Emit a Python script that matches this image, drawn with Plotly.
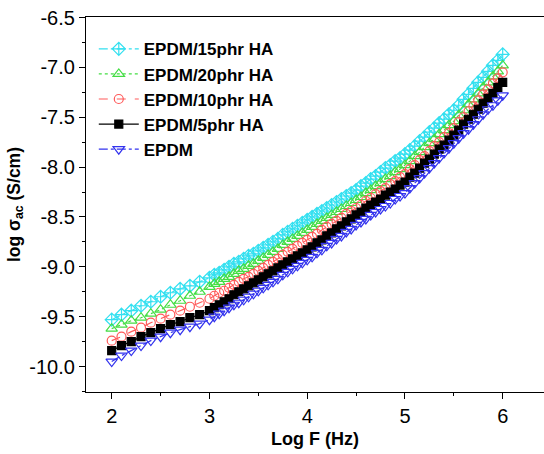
import plotly.graph_objects as go

log_f = [2.0, 2.1, 2.2, 2.3, 2.4, 2.5, 2.6, 2.7, 2.8, 2.9, 3.0,
         3.05, 3.10, 3.15, 3.20, 3.25, 3.30, 3.35, 3.40, 3.45, 3.50,
         3.55, 3.60, 3.65, 3.70, 3.75, 3.80, 3.85, 3.90, 3.95, 4.00,
         4.05, 4.10, 4.15, 4.20, 4.25, 4.30, 4.35, 4.40, 4.45, 4.50,
         4.55, 4.60, 4.65, 4.70, 4.75, 4.80, 4.85, 4.90, 4.95, 5.00,
         5.05, 5.10, 5.15, 5.20, 5.25, 5.30, 5.35, 5.40, 5.45, 5.50,
         5.55, 5.60, 5.65, 5.70, 5.75, 5.80, 5.85, 5.90, 5.95, 6.00]

epdm_15 = [-9.53, -9.48, -9.44, -9.39, -9.35, -9.30, -9.26, -9.22, -9.19, -9.15, -9.11,
           -9.08, -9.06, -9.03, -9.00, -8.97, -8.95, -8.92, -8.89, -8.87, -8.84,
           -8.81, -8.78, -8.75, -8.72, -8.68, -8.65, -8.62, -8.59, -8.56, -8.53,
           -8.50, -8.47, -8.44, -8.41, -8.38, -8.35, -8.32, -8.29, -8.26, -8.23,
           -8.19, -8.16, -8.12, -8.09, -8.05, -8.01, -7.98, -7.94, -7.91, -7.87,
           -7.83, -7.79, -7.74, -7.70, -7.65, -7.61, -7.56, -7.52, -7.47, -7.43,
           -7.38, -7.32, -7.27, -7.21, -7.15, -7.10, -7.04, -6.98, -6.93, -6.87]

epdm_20 = [-9.62, -9.58, -9.54, -9.51, -9.47, -9.43, -9.38, -9.34, -9.29, -9.25, -9.20,
           -9.17, -9.15, -9.12, -9.10, -9.07, -9.04, -9.02, -8.99, -8.97, -8.94,
           -8.91, -8.88, -8.85, -8.82, -8.78, -8.75, -8.72, -8.69, -8.66, -8.63,
           -8.60, -8.57, -8.54, -8.51, -8.48, -8.45, -8.42, -8.39, -8.36, -8.33,
           -8.30, -8.26, -8.23, -8.19, -8.16, -8.12, -8.09, -8.05, -8.02, -7.98,
           -7.94, -7.89, -7.85, -7.80, -7.76, -7.72, -7.67, -7.63, -7.58, -7.54,
           -7.48, -7.43, -7.37, -7.32, -7.26, -7.20, -7.15, -7.09, -7.04, -6.98]

epdm_10 = [-9.74, -9.70, -9.65, -9.61, -9.56, -9.52, -9.48, -9.44, -9.40, -9.36, -9.32,
           -9.29, -9.26, -9.24, -9.21, -9.18, -9.15, -9.12, -9.10, -9.07, -9.04,
           -9.01, -8.98, -8.95, -8.92, -8.88, -8.85, -8.82, -8.79, -8.76, -8.73,
           -8.70, -8.67, -8.63, -8.60, -8.57, -8.54, -8.51, -8.47, -8.44, -8.41,
           -8.38, -8.34, -8.31, -8.27, -8.24, -8.21, -8.17, -8.14, -8.10, -8.07,
           -8.02, -7.98, -7.93, -7.89, -7.84, -7.79, -7.75, -7.70, -7.66, -7.61,
           -7.55, -7.50, -7.44, -7.39, -7.33, -7.27, -7.22, -7.16, -7.11, -7.05]

epdm_5 = [-9.84, -9.79, -9.75, -9.70, -9.66, -9.62, -9.58, -9.55, -9.51, -9.48, -9.44,
          -9.41, -9.38, -9.35, -9.32, -9.28, -9.25, -9.22, -9.19, -9.16, -9.13,
          -9.10, -9.07, -9.04, -9.01, -8.98, -8.95, -8.92, -8.89, -8.86, -8.83,
          -8.80, -8.76, -8.73, -8.69, -8.66, -8.62, -8.59, -8.55, -8.52, -8.48,
          -8.45, -8.41, -8.38, -8.35, -8.32, -8.28, -8.25, -8.22, -8.18, -8.15,
          -8.10, -8.06, -8.01, -7.96, -7.92, -7.87, -7.82, -7.78, -7.73, -7.68,
          -7.63, -7.57, -7.52, -7.47, -7.42, -7.36, -7.31, -7.26, -7.20, -7.15]

epdm_0 = [-9.95, -9.89, -9.84, -9.79, -9.74, -9.70, -9.66, -9.63, -9.60, -9.57, -9.53,
          -9.50, -9.47, -9.44, -9.41, -9.38, -9.36, -9.33, -9.30, -9.27, -9.24,
          -9.21, -9.18, -9.15, -9.12, -9.08, -9.05, -9.02, -8.99, -8.96, -8.93,
          -8.90, -8.86, -8.83, -8.79, -8.76, -8.72, -8.69, -8.65, -8.62, -8.58,
          -8.55, -8.52, -8.48, -8.45, -8.42, -8.39, -8.36, -8.32, -8.29, -8.26,
          -8.21, -8.16, -8.11, -8.06, -8.01, -7.96, -7.91, -7.86, -7.81, -7.76,
          -7.71, -7.66, -7.62, -7.57, -7.52, -7.47, -7.42, -7.38, -7.33, -7.28]

names = ["EPDM/15phr HA", "EPDM/20phr HA", "EPDM/10phr HA", "EPDM/5phr HA", "EPDM"]
series = [epdm_15, epdm_20, epdm_10, epdm_5, epdm_0]
colors = ["#33e0f0", "#44dd44", "#ff5a5a", "#000000", "#3333ee"]
symbols = ["diamond-cross-open", "triangle-up-open", "circle-open", "square", "triangle-down-open"]
dashes = ["dashdot", "dot", "dash", "solid", "dashdot"]
sizes = [10, 10, 9, 8, 10]

FONT = "Arial, Liberation Sans, sans-serif"

fig = go.Figure()
for nm, ys, c, s, d, sz in zip(names, series, colors, symbols, dashes, sizes):
    fig.add_trace(go.Scatter(
        x=log_f, y=ys, name=nm, mode="lines+markers",
        line=dict(color=c, width=1.2, dash=d),
        marker=dict(symbol=s, size=sz, color=c, line=dict(color=c, width=1.2)),
    ))

fig.update_layout(
    width=544, height=454,
    margin=dict(l=86, r=0, t=17, b=62),
    paper_bgcolor="white", plot_bgcolor="white",
    font=dict(family=FONT, color="black", size=17),
    showlegend=True,
    legend=dict(
        x=0.017, y=0.962, xanchor="left", yanchor="top",
        bgcolor="rgba(0,0,0,0)", borderwidth=0,
        font=dict(family=FONT, size=17, color="black", weight="bold"),
        tracegroupgap=0, itemwidth=40,
    ),
    xaxis=dict(
        range=[1.737, 6.4225], showgrid=False, zeroline=False,
        showline=True, linecolor="black", linewidth=1.3, mirror=True,
        ticks="outside", ticklen=6, tickwidth=1.2, tickcolor="black",
        tickvals=[2, 3, 4, 5, 6], ticktext=["2", "3", "4", "5", "6"],
        minor=dict(ticks="outside", ticklen=3, tickwidth=1.2, tickcolor="black", dtick=0.5, showgrid=False),
        tickfont=dict(size=20),
        title=dict(text="Log F (Hz)", font=dict(size=18, weight="bold"), standoff=6),
    ),
    yaxis=dict(
        range=[-10.255, -6.495], showgrid=False, zeroline=False,
        showline=True, linecolor="black", linewidth=1.3, mirror=False,
        ticks="outside", ticklen=6, tickwidth=1.2, tickcolor="black",
        tickvals=[-10.0, -9.5, -9.0, -8.5, -8.0, -7.5, -7.0, -6.5],
        ticktext=["-10.0", "-9.5", "-9.0", "-8.5", "-8.0", "-7.5", "-7.0", "-6.5"],
        minor=dict(ticks="outside", ticklen=3, tickwidth=1.2, tickcolor="black", dtick=0.25, tick0=-10.0, showgrid=False),
        tickfont=dict(size=20),
        title=dict(text="log σ<sub>ac</sub> (S/cm)", font=dict(size=17.5, weight="bold"), standoff=4),
    ),
)

fig.write_html("out.html")
